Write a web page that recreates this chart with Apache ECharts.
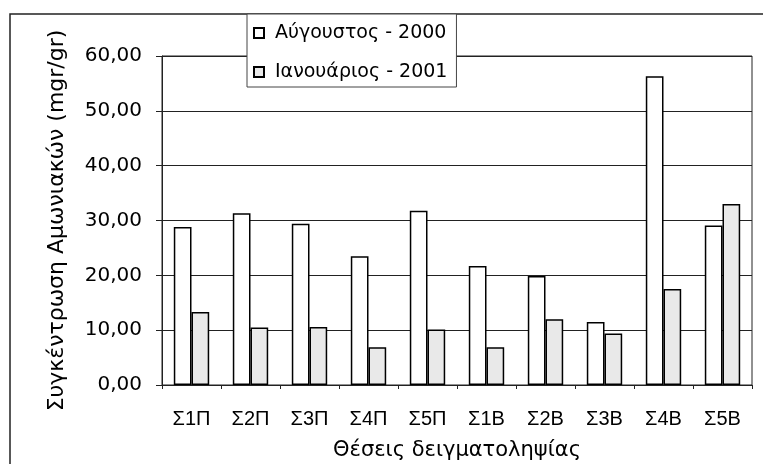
<!DOCTYPE html>
<html>
<head>
<meta charset="utf-8">
<script src="https://cdn.jsdelivr.net/npm/echarts@6/dist/echarts.min.js"></script>
<style>html,body{margin:0;padding:0;background:#fff;}#c{width:763px;height:464px;}</style>
</head>
<body>
<div id="c"></div>
<script>
var categories = ['Σ1Π','Σ2Π','Σ3Π','Σ4Π','Σ5Π','Σ1Β','Σ2Β','Σ3Β','Σ4Β','Σ5Β'];
var seriesNames = ['Αύγουστος - 2000', 'Ιανουάριος - 2001'];
var august2000 = [28.8, 31.3, 29.4, 23.5, 31.8, 21.7, 19.9, 11.5, 56.3, 29.1];
var january2001 = [13.3, 10.5, 10.6, 6.9, 10.1, 6.9, 12.0, 9.4, 17.5, 33.0];
var yMin = 0, yMax = 60, yStep = 10;
var yTitle = 'Συγκέντρωση Αμωνιακών (mgr/gr)';
var xTitle = 'Θέσεις δειγματοληψίας';

var FONT = 'DejaVu Sans';
var FONT2 = 'Liberation Sans';
var chart = echarts.init(document.getElementById('c'), null, {renderer: 'canvas'});
chart.setOption({
  animation: false,
  backgroundColor: '#fff',
  textStyle: {fontFamily: FONT, color: '#000'},
  graphic: [{
    type: 'rect', z: -1, silent: true,
    shape: {x: 10, y: 14, width: 800, height: 500},
    style: {fill: 'none', stroke: '#222', lineWidth: 1.5}
  }],
  legend: {
    orient: 'vertical',
    left: 247, top: 14,
    padding: [8, 9, 4, 6],
    itemGap: 17,
    itemWidth: 10, itemHeight: 10,
    icon: 'rect',
    backgroundColor: '#fff',
    borderColor: '#444', borderWidth: 1,
    textStyle: {fontFamily: FONT, fontSize: 19, color: '#000', lineHeight: 22, padding: [0, 0, 0, 6]},
    data: seriesNames
  },
  grid: {
    left: 162, right: 11, top: 56, bottom: 79,
    outerBoundsMode: 'none',
    containLabel: false,
    show: true, borderColor: '#222', borderWidth: 1, backgroundColor: 'transparent'
  },
  xAxis: {
    type: 'category',
    data: categories,
    name: xTitle,
    nameLocation: 'middle',
    nameGap: 55,
    nameTextStyle: {fontFamily: FONT, fontSize: 21, color: '#000'},
    axisLine: {lineStyle: {color: '#222', width: 1}},
    axisTick: {show: true, length: 4, lineStyle: {color: '#222'}},
    axisLabel: {fontFamily: FONT2, fontSize: 20, color: '#000', margin: 24}
  },
  yAxis: {
    type: 'value',
    min: yMin, max: yMax, interval: yStep,
    name: yTitle,
    nameLocation: 'middle',
    nameGap: 94,
    nameTextStyle: {fontFamily: FONT, fontSize: 22, color: '#000'},
    axisLine: {show: true, lineStyle: {color: '#222', width: 1}},
    axisTick: {show: true, length: 6, lineStyle: {color: '#222'}},
    axisLabel: {fontFamily: FONT, fontSize: 20, color: '#000', margin: 20,
      formatter: function (v) { return v.toFixed(2).replace('.', ','); }},
    splitLine: {show: true, lineStyle: {color: '#222', width: 1}}
  },
  series: [{
    name: seriesNames[0],
    type: 'bar',
    data: august2000,
    barGap: '0%',
    barCategoryGap: '40%',
    itemStyle: {color: '#ffffff', borderColor: '#000', borderWidth: 1.5}
  }, {
    name: seriesNames[1],
    type: 'bar',
    data: january2001,
    itemStyle: {color: '#e9e9e9', borderColor: '#000', borderWidth: 1.5}
  }]
});
</script>
</body>
</html>
